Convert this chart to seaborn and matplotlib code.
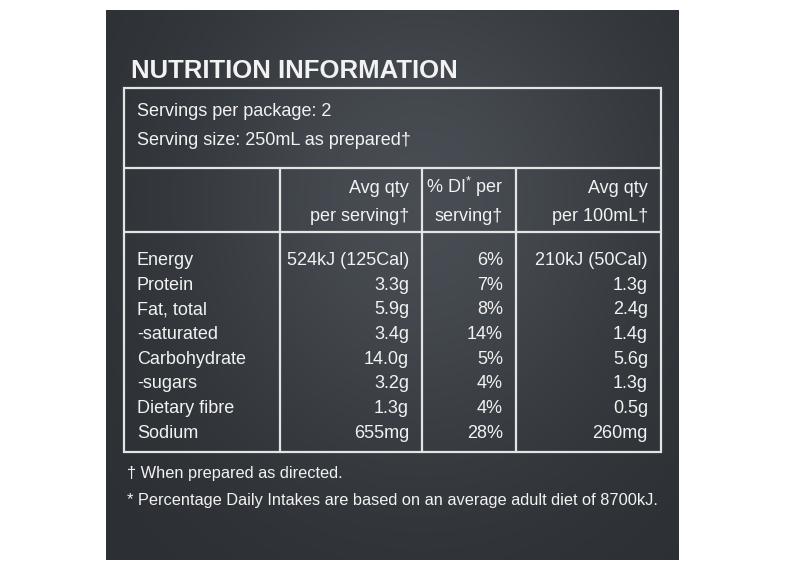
import matplotlib.pyplot as plt
import numpy as np
import seaborn as sns
from matplotlib.patches import Rectangle

# Table contents
title = "NUTRITION INFORMATION"
serving_info = ["Servings per package: 2", "Serving size: 250mL as prepared\u2020"]
col_headers = [
    ["Avg qty", "per serving\u2020"],
    ["% DI$^{*}$ per", "serving\u2020"],
    ["Avg qty", "per 100mL\u2020"],
]
nutrients = ["Energy", "Protein", "Fat, total", "-saturated",
             "Carbohydrate", "-sugars", "Dietary fibre", "Sodium"]
per_serving = ["524kJ (125Cal)", "3.3g", "5.9g", "3.4g",
               "14.0g", "3.2g", "1.3g", "655mg"]
di_pct = ["6%", "7%", "8%", "14%", "5%", "4%", "4%", "28%"]
per_100ml = ["210kJ (50Cal)", "1.3g", "2.4g", "1.4g",
             "5.6g", "1.3g", "0.5g", "260mg"]
footnotes = ["\u2020 When prepared as directed.",
             "* Percentage Daily Intakes are based on an average adult diet of 8700kJ."]

sns.set_theme(style="white")
plt.rcParams["font.family"] = ["Liberation Sans", "DejaVu Sans"]
plt.rcParams["mathtext.fontset"] = "custom"
plt.rcParams["mathtext.rm"] = "Liberation Sans"
plt.rcParams["mathtext.it"] = "Liberation Sans"
plt.rcParams["mathtext.bf"] = "Liberation Sans:bold"

fg = "#f2f2f2"
line_c = "#e4e4e4"
fs = 13

fig = plt.figure(figsize=(8.03, 5.85), dpi=100)
fig.patch.set_facecolor("white")
ax = fig.add_axes([0, 0, 1, 1])
ax.set_xlim(0, 803)
ax.set_ylim(585, 0)
ax.axis("off")

# slate panel: darker edges, lighter toward the upper middle
gx, gy = np.meshgrid(np.linspace(-1, 1, 200), np.linspace(-1, 1, 200))
shade = np.exp(-((gx - 0.1) ** 2 / 0.7 + (gy + 0.3) ** 2 / 1.0))
slate = sns.blend_palette(["#2c3035", "#484d53"], as_cmap=True)
ax.imshow(shade, cmap=slate, extent=(106, 679, 560, 10), aspect="auto",
          interpolation="bicubic", zorder=0)

ax.text(131, 78, title, color=fg, fontsize=18.5, fontweight="bold",
        va="baseline", ha="left")

# table frame
lw = 1.6
ax.add_patch(Rectangle((124, 88), 537, 364, facecolor="none", edgecolor=line_c, lw=lw))
for y in (168, 232):
    ax.plot([124, 661], [y, y], color=line_c, lw=lw)
for x in (280, 422, 516):
    ax.plot([x, x], [168, 452], color=line_c, lw=lw)

for i, s in enumerate(serving_info):
    ax.text(137, 116 + 29 * i, s, color=fg, fontsize=fs, va="baseline", ha="left")

col_right = [409, 503, 648]
for xr, hdr in zip(col_right, col_headers):
    for j, h in enumerate(hdr):
        ax.text(xr, 193 + 28 * j, h, color=fg, fontsize=fs, va="baseline", ha="right")

row_step = 24.7
for i, name in enumerate(nutrients):
    y = 265 + row_step * i
    ax.text(137, y, name, color=fg, fontsize=fs, va="baseline", ha="left")
    for xr, vals in zip(col_right, (per_serving, di_pct, per_100ml)):
        ax.text(xr, y, vals[i], color=fg, fontsize=fs, va="baseline", ha="right")

for i, f in enumerate(footnotes):
    ax.text(127, 478 + 27 * i, f, color=fg, fontsize=11.8, va="baseline", ha="left")

ax.set_xlim(0, 803)
ax.set_ylim(585, 0)
fig.savefig("out.png", dpi=100, facecolor="white")
